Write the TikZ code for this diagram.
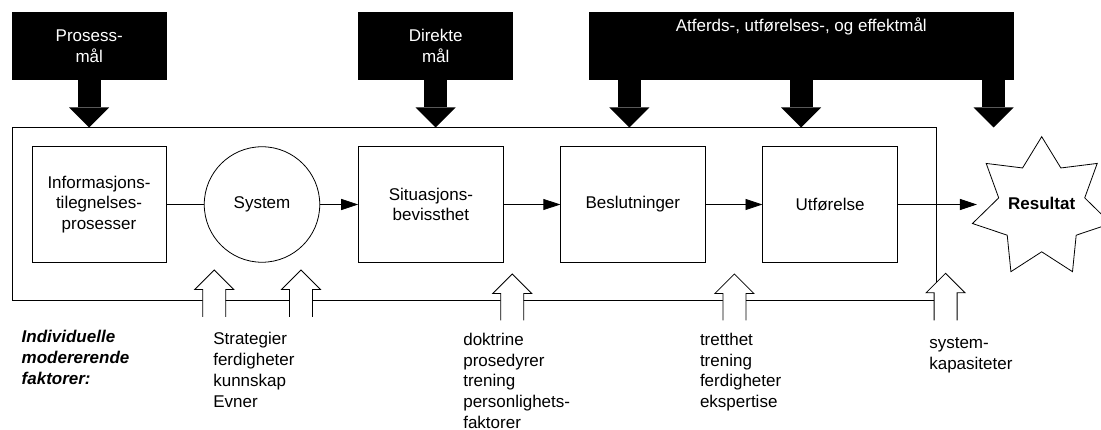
\documentclass[tikz,border=0pt]{standalone}
\usepackage{fontspec}
\setmainfont{Liberation Sans}
\usetikzlibrary{arrows.meta,shapes.geometric}
\newcommand\hollowup[3]{%
  \path[draw=black, fill=white, line width=0.8pt, line join=miter]
    (#1-11.5,#3) -- (#1-11.5,#2+19.5) -- (#1-19.5,#2+19.5) -- (#1,#2)
    -- (#1+19.5,#2+19.5) -- (#1+11.5,#2+19.5) -- (#1+11.5,#3);}
\begin{document}
\begin{tikzpicture}[x=1pt,y=-1pt,
  every node/.style={font=\fontsize{17}{20.7}\selectfont, inner sep=0pt, outer sep=0pt},
  box/.style={draw, line width=0.8pt, minimum height=115.5pt, align=center},
  goal/.style={fill=black, text=white, align=center, minimum height=68pt},
  arr/.style={line width=0.8pt, -{Triangle[length=17pt,width=11pt]}},
  fat/.style={line width=23pt, -{Triangle[length=20pt,width=40pt,line width=0pt]}},
  lbl/.style={anchor=base west, align=left, text width=160pt},
]
\useasboundingbox (0,0) rectangle (1101,430);

% goal boxes
\node[goal, minimum width=155pt] (pm) at (89.2,46) {Prosess-\\mål};
\node[goal, minimum width=155pt] (dm) at (435.7,46) {Direkte\\mål};
\node[goal, minimum width=424.5pt] (am) at (801.25,46) {};
\node[text=white] (amt) at (801.25,26) {Atferds-, utførelses-, og effektmål};

% frame
\node[draw, line width=0.8pt, minimum width=923.7pt, minimum height=173pt] (frame) at (474.15,214) {};

% fat arrows
\coordinate (t1) at (629.4,127.5);
\coordinate (t2) at (801.2,127.5);
\coordinate (t3) at (993.7,127.5);
\draw[fat] (pm.south) -- (pm.south |- frame.north);
\draw[fat] (dm.south) -- (dm.south |- frame.north);
\draw[fat] (am.south -| t1) -- (t1);
\draw[fat] (am.south -| t2) -- (t2);
\draw[fat] (am.south -| t3) -- (t3);

% process nodes
\node[box, minimum width=134pt] (info) at (99,204.5) {Informasjons-\\tilegnelses-\\prosesser};
\node[draw, circle, line width=0.8pt, minimum size=115.5pt] (sys) at (262,204.5) {System};
\node[box, minimum width=145.4pt] (sit) at (430.9,204.5) {Situasjons-\\bevissthet};
\node[box, minimum width=145pt] (bes) at (632.85,204.5) {Beslutninger};
\node[box, minimum width=135pt] (utf) at (830,204.5) {Utførelse};
\node[draw, star, star points=7, star point ratio=1.61, minimum size=142pt, line width=0.8pt,
  label={[yshift=4pt, font=\fontsize{17}{20.7}\selectfont\bfseries]center:Resultat}] (res) at (1041.7,207.7) {};

\draw[line width=0.8pt] (info.east) -- (sys.west);
\draw[arr] (sys.east) -- (sit.west);
\draw[arr] (sit.east) -- (bes.west);
\draw[arr] (bes.east) -- (utf.west);
\draw[arr, shorten >=11.7pt] (utf.east) -- (utf.east -| res.west);

% moderating factor arrows
\hollowup{214.2}{270}{317}
\hollowup{301}{270}{317}
\hollowup{512.2}{274}{320.5}
\hollowup{734.4}{274}{320.5}
\hollowup{945.6}{273.3}{320.5}

% labels
\node[lbl, font=\fontsize{17}{20.7}\selectfont\bfseries\itshape] (ind) at (21.7,343) {Individuelle\\modererende\\faktorer:};
\node[lbl] (l1) at (213.3,345) {Strategier\\ferdigheter\\kunnskap\\Evner};
\node[lbl] (l2) at (463.3,345.5) {doktrine\\prosedyrer\\trening\\personlighets-\\faktorer};
\node[lbl] (l3) at (700,345.5) {tretthet\\trening\\ferdigheter\\ekspertise};
\node[lbl] (l4) at (929.3,349) {system-\\kapasiteter};
\end{tikzpicture}
\end{document}
